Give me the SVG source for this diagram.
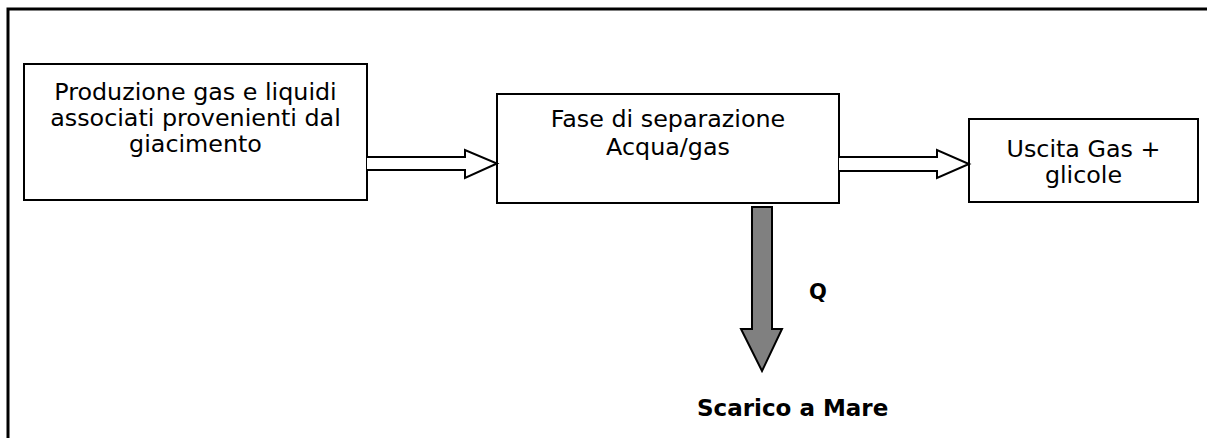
<svg xmlns="http://www.w3.org/2000/svg" width="1207" height="438" viewBox="0 0 1207 438">
<style>
.box{fill:#fff;stroke:#000;stroke-width:2}
.t{font-family:"DejaVu Sans",Verdana,sans-serif;font-size:23.8px;fill:#000;text-anchor:middle}
.b{font-family:"DejaVu Sans",Verdana,sans-serif;font-weight:bold;fill:#000}
.ar{fill:#fff;stroke:#000;stroke-width:2;stroke-linejoin:miter}
.dn{fill:#808080;stroke:#000;stroke-width:2}
</style>
<rect x="0" y="0" width="1207" height="438" fill="#fff"/>
<path d="M8 438 V9 H1207" fill="none" stroke="#000" stroke-width="3"/>
<g id="node-produzione">
<rect class="box" x="24" y="64" width="343" height="136"/>
<text class="t" x="195.5" y="100">Produzione gas e liquidi</text>
<text class="t" x="195.5" y="126">associati provenienti dal</text>
<text class="t" x="195.5" y="152">giacimento</text>
</g>
<g id="node-separazione">
<rect class="box" x="497" y="94" width="342" height="109"/>
<text class="t" x="668" y="127">Fase di separazione</text>
<text class="t" x="668" y="155">Acqua/gas</text>
</g>
<g id="node-uscita">
<rect class="box" x="969" y="119" width="229" height="83"/>
<text class="t" x="1083.5" y="157">Uscita Gas +</text>
<text class="t" x="1083.5" y="183">glicole</text>
</g>
<g id="connectors">
<path class="ar" d="M367 157 H465 V150 L497 163.5 L465 178 V170 H367"/>
<path class="ar" d="M839 157 H937 V150 L969 164 L937 178 V171 H839"/>
<path class="dn" d="M752 207 H772 V329 H782 L762 371 L741 329 H752 Z"/>
<text class="b" x="809" y="299" font-size="21">Q</text>
</g>
<g id="node-scarico">
<text class="b" x="697" y="416" font-size="23">Scarico a Mare</text>
</g>
</svg>
